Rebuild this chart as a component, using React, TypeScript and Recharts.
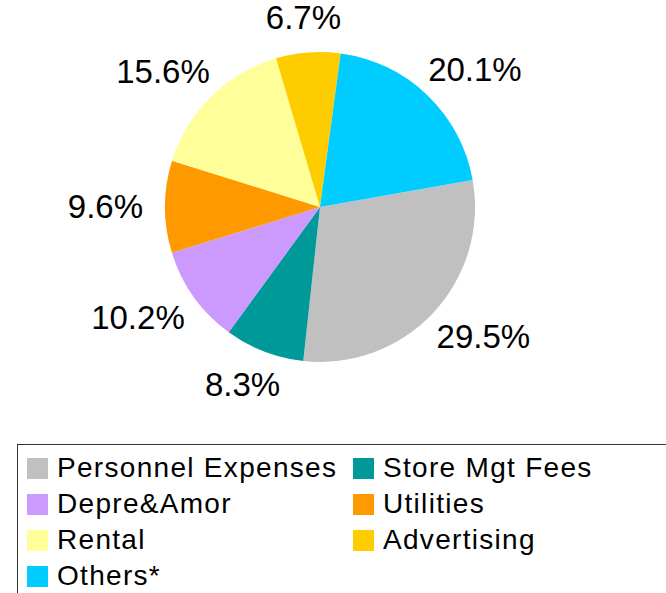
import { PieChart, Pie, Cell, Legend } from 'recharts';

const categories = [
    'Personnel Expenses',
    'Store Mgt Fees',
    'Depre&Amor',
    'Utilities',
    'Rental',
    'Advertising',
    'Others*',
];
const shares = [29.5, 8.3, 10.2, 9.6, 15.6, 6.7, 20.1];
const colors = ['#C0C0C0', '#009999', '#CC99FF', '#FF9900', '#FFFF99', '#FFCC00', '#00CCFF'];

const data = categories.map((name, i) => ({ name, value: shares[i] }));

const FONT = '"Liberation Sans", Arial, sans-serif';
const RADIAN = Math.PI / 180;

// rough Arial advance widths, used to push the label box outward from the slice
const textWidth = (s: string, size: number) =>
    s.split('').reduce((w, ch) => w + (ch === '.' ? 0.278 : ch === '%' ? 0.889 : 0.556), 0) * size;

const renderLabel = (props: any) => {
    const { cx, cy, midAngle, outerRadius, value } = props;
    const text = `${Number(value).toFixed(1)}%`;
    const size = 33;
    const cos = Math.cos(-midAngle * RADIAN);
    const sin = Math.sin(-midAngle * RADIAN);
    const r = outerRadius + 22;
    const w = textWidth(text, size);
    const x = cx + r * cos + (w / 2) * cos;
    const y = cy + r * sin + 13 * sin;
    return (
        <text
            x={x}
            y={y}
            fill="#000"
            fontSize={size}
            fontFamily={FONT}
            textAnchor="middle"
            dominantBaseline="central"
        >
            {text}
        </text>
    );
};

// legend keeps the data order (row by row, two columns)
const renderLegend = () => (
    <div
        style={{
            boxSizing: 'border-box',
            width: '100%',
            height: '100%',
            border: '1.5px solid #333',
            padding: '5px 0 0 9px',
            display: 'grid',
            gridTemplateColumns: '326px 300px',
            gridAutoRows: '36px',
            fontFamily: FONT,
            fontSize: 28,
            letterSpacing: 1.3,
            color: '#000',
        }}
    >
        {categories.map((name, i) => (
            <div key={name} style={{ display: 'flex', alignItems: 'center', whiteSpace: 'nowrap' }}>
                <span style={{ width: 21, height: 21, background: colors[i], marginRight: 9, flex: 'none' }} />
                <span>{name}</span>
            </div>
        ))}
    </div>
);

export default function App() {
    return (
        <div style={{ position: 'absolute', left: 0, top: 0, width: 666, height: 593, background: '#fff', overflow: 'hidden' }}>
            <PieChart width={666} height={593} margin={{ top: 0, right: 0, bottom: 0, left: 0 }}>
                <Pie
                    data={data}
                    dataKey="value"
                    nameKey="name"
                    cx={320}
                    cy={207}
                    outerRadius={155}
                    startAngle={10}
                    endAngle={-350}
                    stroke="none"
                    label={renderLabel}
                    labelLine={false}
                    isAnimationActive={false}
                >
                    {data.map((d, i) => (
                        <Cell key={d.name} fill={colors[i]} />
                    ))}
                </Pie>
                <Legend
                    content={renderLegend}
                    wrapperStyle={{ left: 17, top: 444, bottom: 'auto', width: 690, height: 170 }}
                />
            </PieChart>
        </div>
    );
}
